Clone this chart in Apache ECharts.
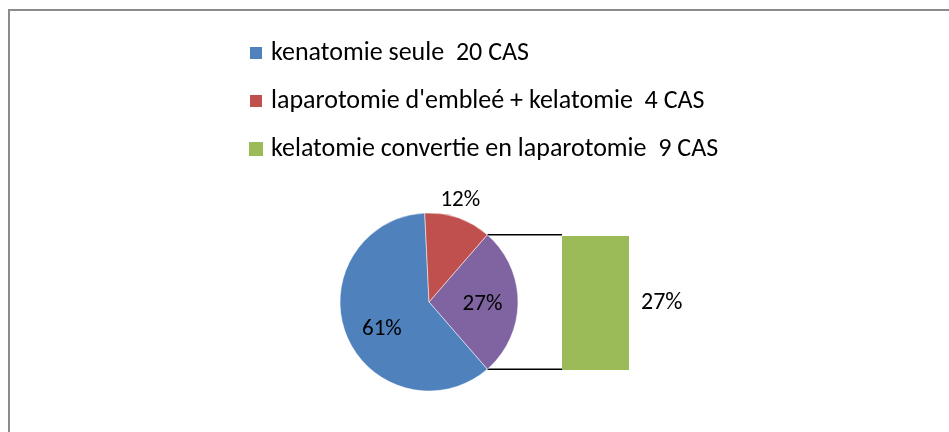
<!DOCTYPE html>
<html>
<head>
<meta charset="utf-8">
<script src="https://cdn.jsdelivr.net/npm/echarts@6/dist/echarts.min.js"></script>
<style>
  html, body { margin: 0; padding: 0; background: #fff; }
  #chart { width: 949px; height: 432px; }
</style>
</head>
<body>
<div id="chart"></div>
<script>
// données
const categories = [
  'kenatomie seule  20 CAS',
  "laparotomie d'embleé + kelatomie  4 CAS",
  'kelatomie convertie en laparotomie  9 CAS'
];
const cases = [20, 4, 9];
const otherName = 'Autre';

const total = cases.reduce((a, b) => a + b, 0);
const pct = v => Math.round(v / total * 100) + '%';

const FONT = 'Carlito, Lato, sans-serif';
const colors = ['#4F81BD', '#C0504D', '#9BBB59', '#8064A2'];

// géométrie du camembert
const pieCenter = [429, 302];
const pieRadius = 89;
const halfAngle = 360 * cases[2] / total / 2;   // la part "autre" centrée à 3h
const barBox = { left: 562, top: 236, width: 67, height: 134 };

let chartDom = document.getElementById('chart');
let myChart = echarts.init(chartDom);

const rad = halfAngle * Math.PI / 180;
const px = pieCenter[0] + pieRadius * Math.cos(rad);
const pyTop = pieCenter[1] - pieRadius * Math.sin(rad);
const pyBot = pieCenter[1] + pieRadius * Math.sin(rad);

let option = {
  animation: false,
  textStyle: { fontFamily: FONT },
  legend: {
    orient: 'vertical',
    left: 248,
    top: 40,
    padding: 0,
    itemWidth: 14,
    itemHeight: 14,
    itemGap: 22,
    icon: 'rect',
    data: categories,
    textStyle: { fontSize: 26, color: '#000', fontFamily: FONT, padding: [0, 0, 0, 3] }
  },
  grid: {
    left: barBox.left,
    top: barBox.top,
    width: barBox.width,
    height: barBox.height
  },
  xAxis: { type: 'category', data: [''], show: false },
  yAxis: { type: 'value', min: 0, max: cases[2], show: false },
  graphic: [
    {
      type: 'rect',
      shape: { x: 9, y: 10, width: 1000, height: 500 },
      style: { fill: 'none', stroke: '#8c8c8c', lineWidth: 2 },
      silent: true
    },
    {
      type: 'line',
      shape: { x1: px, y1: pyTop, x2: barBox.left, y2: pyTop },
      style: { stroke: '#000', lineWidth: 1.5 },
      silent: true
    },
    {
      type: 'line',
      shape: { x1: px, y1: pyBot, x2: barBox.left, y2: pyBot },
      style: { stroke: '#000', lineWidth: 1.5 },
      silent: true
    }
  ],
  series: [
    {
      type: 'pie',
      center: pieCenter,
      radius: pieRadius,
      startAngle: halfAngle,
      clockwise: true,
      avoidLabelOverlap: false,
      itemStyle: { borderColor: '#fff', borderWidth: 0.5 },
      label: {
        position: 'inside',
        fontSize: 23,
        color: '#000',
        fontFamily: FONT,
        formatter: p => pct(p.value)
      },
      labelLine: { show: false },
      emphasis: { scale: false },
      data: [
        { name: otherName, value: cases[2], itemStyle: { color: colors[3] }, label: { offset: [6, 2] } },
        { name: categories[0], value: cases[0], itemStyle: { color: colors[0] }, label: { offset: [-3, 10] } },
        {
          name: categories[1], value: cases[1], itemStyle: { color: colors[1] },
          label: { position: 'outside', offset: [-24, -14] },
          labelLine: { show: false, length: 4, length2: 0 }
        }
      ]
    },
    {
      type: 'bar',
      name: categories[2],
      barWidth: '100%',
      itemStyle: { color: colors[2] },
      label: {
        show: true,
        position: 'right',
        distance: 12,
        fontSize: 24,
        color: '#000',
        fontFamily: FONT,
        formatter: p => pct(p.value)
      },
      data: [cases[2]]
    }
  ]
};

option && myChart.setOption(option);
</script>
</body>
</html>
